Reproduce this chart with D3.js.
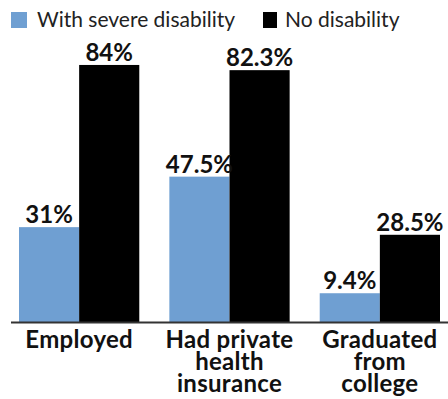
<!DOCTYPE html>
<html>
<head>
<meta charset="utf-8">
<script src="https://cdn.jsdelivr.net/npm/d3@7"></script>
<style>
  body { margin: 0; background: #fff; }
  svg { display: block; }
</style>
</head>
<body>
<svg id="chart" width="448" height="399"></svg>
<script>
// data
var categories = ["Employed", "Had private health insurance", "Graduated from college"];
var categoryLines = [["Employed"], ["Had private", "health", "insurance"], ["Graduated", "from", "college"]];
var seriesNames = ["With severe disability", "No disability"];
var severeValues = [31, 47.5, 9.4];
var noneValues = [84, 82.3, 28.5];
var valueLabels = [["31%", "47.5%", "9.4%"], ["84%", "82.3%", "28.5%"]];

var colors = ["#6f9fd2", "#000000"];
var fontFam = "Lato, 'Open Sans', sans-serif";

var svg = d3.select("#chart");
var width = 448, height = 399;

var x0 = d3.scaleBand()
    .domain(categories)
    .range([19, 440])
    .paddingInner(0.2)
    .paddingOuter(0);

var x1 = d3.scaleBand()
    .domain(seriesNames)
    .range([0, x0.bandwidth()]);

var y = d3.scaleLinear()
    .domain([0, 100])
    .range([322, 16]);

var rows = [];
categories.forEach(function(c, i) {
  rows.push({cat: c, series: seriesNames[0], value: severeValues[i], label: valueLabels[0][i]});
  rows.push({cat: c, series: seriesNames[1], value: noneValues[i], label: valueLabels[1][i]});
});

// bars
svg.append("g").selectAll("rect")
    .data(rows)
  .enter().append("rect")
    .attr("x", function(d) { return x0(d.cat) + x1(d.series); })
    .attr("y", function(d) { return y(d.value); })
    .attr("width", x1.bandwidth())
    .attr("height", function(d) { return y(0) - y(d.value); })
    .attr("fill", function(d) { return d.series == seriesNames[0] ? colors[0] : colors[1]; });

// value labels
svg.append("g").selectAll("text")
    .data(rows)
  .enter().append("text")
    .attr("x", function(d) { return x0(d.cat) + x1(d.series) + x1.bandwidth() / 2; })
    .attr("y", function(d) { return y(d.value) - 4; })
    .attr("text-anchor", "middle")
    .attr("font-family", fontFam)
    .attr("font-weight", "bold")
    .attr("font-size", "24px")
    .attr("fill", "#111")
    .text(function(d) { return d.label; });

// baseline
svg.append("line")
    .attr("x1", 11)
    .attr("x2", width)
    .attr("y1", y(0) + 0.5)
    .attr("y2", y(0) + 0.5)
    .attr("stroke", "#333")
    .attr("stroke-width", 2);

// category axis (labels only)
var xAxis = d3.axisBottom(x0).tickSize(0);
var axisG = svg.append("g")
    .attr("transform", "translate(0," + y(0) + ")")
    .call(xAxis);
axisG.select(".domain").remove();
axisG.selectAll(".tick text")
    .attr("font-family", fontFam)
    .attr("font-weight", "bold")
    .attr("font-size", "24px")
    .attr("letter-spacing", "0.3px")
    .attr("fill", "#111")
    .attr("dy", null)
    .attr("y", 0)
    .each(function(d, i) {
      var t = d3.select(this).text(null);
      categoryLines[i].forEach(function(line, j) {
        t.append("tspan")
          .attr("x", 0)
          .attr("y", 26 + j * 22)
          .text(line);
      });
    });

// legend
var legend = svg.append("g").attr("font-family", fontFam).attr("font-size", "21px");
var legendX = [11, 263];
seriesNames.forEach(function(s, i) {
  var g = legend.append("g").attr("transform", "translate(" + legendX[i] + ",12)");
  g.append("rect")
    .attr("width", i == 0 ? 16 : 14)
    .attr("height", 16)
    .attr("fill", colors[i]);
  g.append("text")
    .attr("x", i == 0 ? 26 : 22)
    .attr("y", 15)
    .attr("fill", "#222")
    .text(s);
});
</script>
</body>
</html>
